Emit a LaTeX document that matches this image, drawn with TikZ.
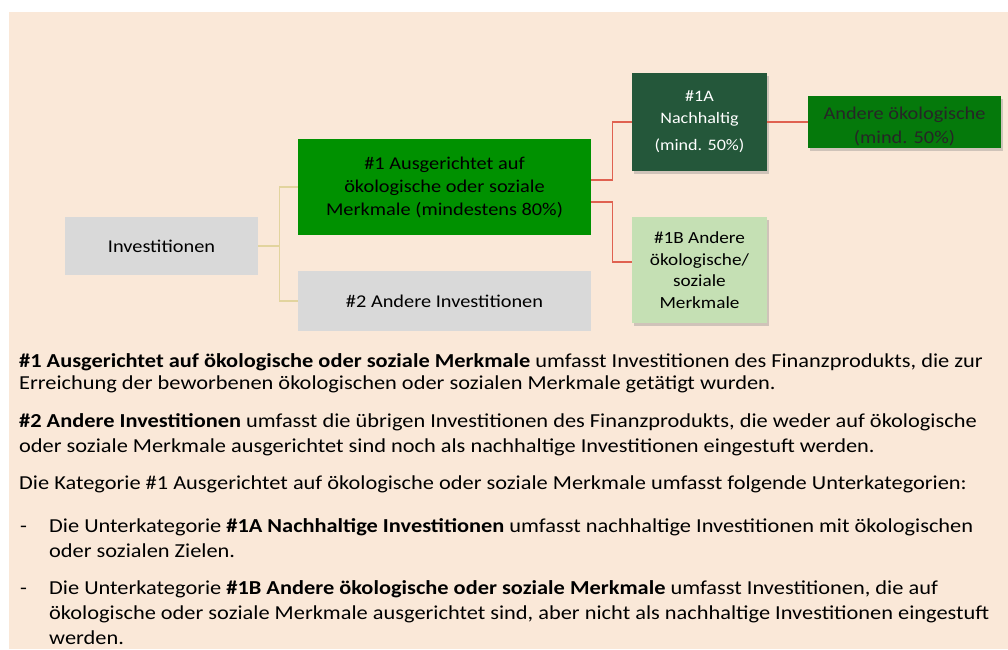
\documentclass[tikz,border=0pt]{standalone}
\usepackage{fontspec}
\setmainfont{Carlito}[FakeStretch=1.13]
\usepackage{xcolor}
\usepackage{tikz}
\usetikzlibrary{shadows}
\definecolor{hintergrund}{HTML}{FAE8D8}
\definecolor{grau}{HTML}{D9D9D9}
\definecolor{gruen}{HTML}{009100}
\definecolor{dunkelgruen}{HTML}{24573A}
\definecolor{mittelgruen}{HTML}{05790B}
\definecolor{hellgruen}{HTML}{C5E0B4}
\definecolor{linie}{HTML}{E2D49E}
\definecolor{rot}{HTML}{E06150}

\tikzset{
  kasten/.style={inner sep=2pt, align=center},
  schatten/.style={drop shadow={shadow xshift=2pt, shadow yshift=-3pt, opacity=0.35}},
  ast/.style={draw=linie, line width=1.2pt},
  rotast/.style={draw=rot, line width=1.2pt},
  absatz/.style={anchor=base west, inner sep=0pt, align=left, font=\fontsize{19.8}{22}\selectfont}
}

\begin{document}
\begin{tikzpicture}[x=1pt, y=-1pt]
    % Hintergrund
    \useasboundingbox (0,0) rectangle (1008,649);
    \fill[hintergrund] (9,12) rectangle (1008,649);

    % Kästen
    \node[kasten, fill=grau, minimum width=193pt, minimum height=58pt, font=\fontsize{18}{23}\selectfont] (inv) at (161.5,246) {Investitionen};
    \node[kasten, fill=gruen, minimum width=293pt, minimum height=96pt, font=\fontsize{18}{23}\selectfont] (eins) at (444.5,187)
        {\#1 Ausgerichtet auf\\ökologische oder soziale\\Merkmale (mindestens 80\%)};
    \node[kasten, fill=grau, minimum width=293pt, minimum height=60pt, font=\fontsize{18}{23}\selectfont] (zwei) at (444.5,301) {\#2 Andere Investitionen};
    \node[kasten, schatten, fill=dunkelgruen, text=white, minimum width=135pt, minimum height=98pt, font=\fontsize{16}{22}\selectfont] (einsa) at (699.5,122)
        {\#1A\\Nachhaltig\\[5pt](mind. 50\%)};
    \node[kasten, schatten, fill=mittelgruen, text=black!85, minimum width=193pt, minimum height=51pt, font=\fontsize{18}{24}\selectfont] (andere) at (904.5,122)
        {\rule{0pt}{22pt}Andere ökologische\\(mind. 50\%)};
    \node[kasten, schatten, fill=hellgruen, minimum width=135pt, minimum height=106pt, font=\fontsize{17}{21.5}\selectfont] (einsb) at (699.5,270)
        {\#1B Andere\\ökologische/\\soziale\\Merkmale};

    % Verbindungen
    \draw[ast] (inv.east) -- ++(21,0) |- (eins.west);
    \draw[ast] (inv.east) -- ++(21,0) |- (zwei.west);
    \draw[rotast] ([yshift=7pt]eins.east) -- ++(21,0) |- (einsa.west);
    \draw[rotast] ([yshift=-15pt]eins.east) -- ++(21,0) |- ([yshift=8pt]einsb.west);
    \draw[rotast] (einsa.east) -- (andere.west);

    % Erläuterungen
    \node[absatz] (p1) at (19,389)
        {\textbf{\#1 Ausgerichtet auf ökologische oder soziale Merkmale} umfasst Investitionen des Finanzprodukts, die zur\\Erreichung der beworbenen ökologischen oder sozialen Merkmale getätigt wurden.};
    \node[absatz, font=\fontsize{19.8}{25}\selectfont] (p2) at (19,452)
        {\textbf{\#2 Andere Investitionen} umfasst die übrigen Investitionen des Finanzprodukts, die weder auf ökologische\\oder soziale Merkmale ausgerichtet sind noch als nachhaltige Investitionen eingestuft werden.};
    \node[absatz] (p3) at (19,489)
        {Die Kategorie \#1 Ausgerichtet auf ökologische oder soziale Merkmale umfasst folgende Unterkategorien:};
    \node[absatz] (s1) at (20,532) {-};
    \node[absatz, font=\fontsize{19.8}{25}\selectfont] (b1) at (49,557)
        {Die Unterkategorie \textbf{\#1A Nachhaltige Investitionen} umfasst nachhaltige Investitionen mit ökologischen\\oder sozialen Zielen.};
    \node[absatz] (s2) at (20,594) {-};
    \node[absatz, font=\fontsize{19.8}{25}\selectfont] (b2) at (49,644)
        {Die Unterkategorie \textbf{\#1B Andere ökologische oder soziale Merkmale} umfasst Investitionen, die auf\\ökologische oder soziale Merkmale ausgerichtet sind, aber nicht als nachhaltige Investitionen eingestuft\\werden.};
\end{tikzpicture}
\end{document}
